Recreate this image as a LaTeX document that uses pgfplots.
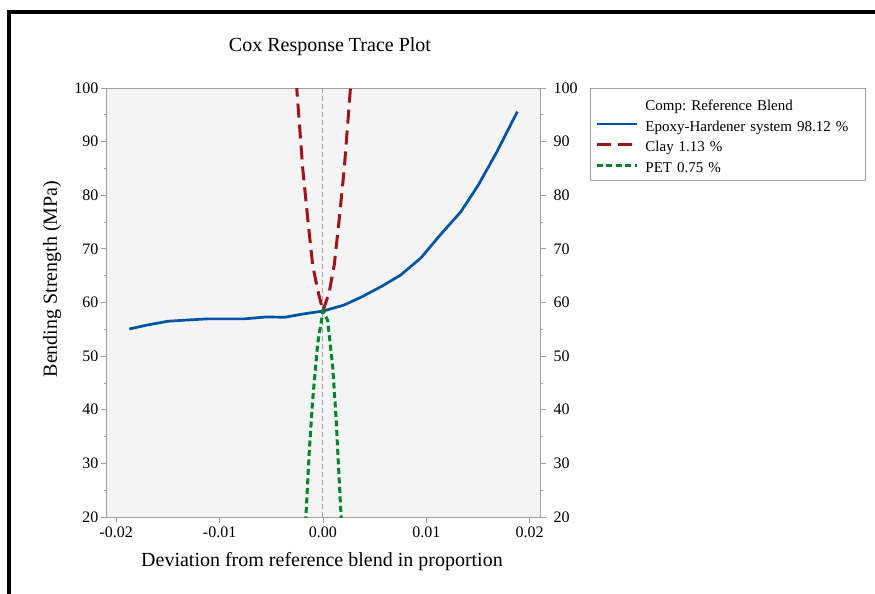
\documentclass[border=0pt]{standalone}
\usepackage{pgfplots}
\pgfplotsset{compat=1.18}
\usepackage{fontspec}
\setmainfont{Liberation Serif}
\frenchspacing
\definecolor{jblue}{RGB}{0,84,166}
\definecolor{jred}{RGB}{158,20,28}
\definecolor{jgreen}{RGB}{0,132,44}
\definecolor{bg}{RGB}{244,244,244}
\definecolor{axgray}{RGB}{160,160,160}
\begin{document}
\begin{tikzpicture}[x=1pt,y=1pt]
\useasboundingbox (-107,-77) rectangle (768,517);
\begin{axis}[
  at={(0,0)}, anchor=south west,
  width=433pt, height=429pt, scale only axis,
  xmin=-0.0209, xmax=0.021, ymin=20, ymax=100,
  xtick={-0.02,-0.01,0,0.01,0.02},
  xticklabels={-0.02,-0.01,0.00,0.01,0.02},
  ytick={20,30,40,50,60,70,80,90,100},
  yticklabels={20,30,40,50,60,70,80,90,100},
  minor ytick={25,35,45,55,65,75,85,95},
  xtick pos=bottom, ytick pos=left,
  tick align=outside,
  major tick length=6pt, minor tick length=3pt,
  axis line style={axgray, line width=1pt},
  tick style={axgray, line width=0.8pt},
  axis background/.style={fill=bg},
  ticklabel style={font=\fontsize{16}{18}\selectfont},
  yticklabel style={xshift=1pt},
  scaled x ticks=false,
  title={Cox Response Trace Plot},
  title style={at={(axis description cs:0.515,1.0816)}, anchor=center, font=\fontsize{20}{22}\selectfont},
  xlabel={Deviation from reference blend in proportion},
  xlabel style={at={(axis description cs:0.4965,-0.105)}, anchor=center, font=\fontsize{20}{22}\selectfont},
  ylabel={Bending Strength (MPa)},
  ylabel style={at={(axis description cs:-0.127,0.555)}, anchor=center, font=\fontsize{20}{22}\selectfont},
  legend cell align=left,
  legend image code/.code={\draw[#1] (0pt,0pt) -- (40pt,0pt);},
  legend style={at={(1.1155,1)}, anchor=north west, draw=axgray, line width=0.8pt,
    inner xsep=5pt, inner ysep=6pt, column sep=7pt, row sep=2.7pt,
    nodes={inner sep=0pt, text width=215pt, text height=16pt, text depth=2pt, font=\fontsize{15}{18}\selectfont}},
]
\addplot[axgray, line width=1pt, dash pattern=on 5pt off 3pt, forget plot] coordinates {(0,20) (0,100)};
\addlegendimage{empty legend}
\addlegendentry{Comp: Reference Blend}
\addplot[jblue, line width=2.7pt, line join=round] coordinates {
(-0.01874,55.06) (-0.0170,55.8) (-0.01503,56.5) (-0.0130,56.75) (-0.01114,56.95)
(-0.0076,56.95) (-0.0055,57.3) (-0.0037,57.25) (-0.0018,57.9) (0.0000,58.4)
(0.0020,59.5) (0.0037,61.0) (0.00566,63.0) (0.0075,65.1) (0.00947,68.3)
(0.0113,72.5) (0.01333,76.9) (0.0150,81.8) (0.0168,88.0) (0.01881,95.6)};
\addlegendentry{Epoxy-Hardener system 98.12 \%}
\addplot[jred, line width=3pt, dash pattern=on 14pt off 7pt] coordinates {
(-0.00258,101) (-0.00196,85.0) (-0.00148,75.7) (-0.0010,67.0) (-0.00051,62.3) (0,58.4)
(0.00061,62.0) (0.00109,67.0) (0.00158,75.7) (0.00206,85.0) (0.00270,101)};
\addlegendentry{Clay 1.13 \%}
\addplot[jgreen, line width=3pt, dash pattern=on 6pt off 3.5pt] coordinates {
(-0.00168,19) (-0.00132,32.5) (-0.0010,41.8) (-0.00051,52.4) (0,58.4)
(0.00045,56.7) (0.00094,48.0) (0.00126,38.7) (0.00178,19)};
\addlegendentry{PET 0.75 \%}
\end{axis}
\begin{axis}[
  at={(0,0)}, anchor=south west,
  width=433pt, height=429pt, scale only axis,
  xmin=-0.0209, xmax=0.021, ymin=20, ymax=100,
  hide x axis, axis y line*=right,
  ytick={20,30,40,50,60,70,80,90,100},
  yticklabels={20,30,40,50,60,70,80,90,100},
  minor ytick={25,35,45,55,65,75,85,95},
  tick align=outside,
  major tick length=6pt, minor tick length=3pt,
  axis line style={axgray, line width=1pt},
  tick style={axgray, line width=0.8pt},
  ticklabel style={font=\fontsize{16}{18}\selectfont},
  yticklabel style={xshift=4pt},
]
\end{axis}
\draw[line width=4pt] (-97.7,-80) -- (-97.7,505) -- (770,505);
\end{tikzpicture}
\end{document}
